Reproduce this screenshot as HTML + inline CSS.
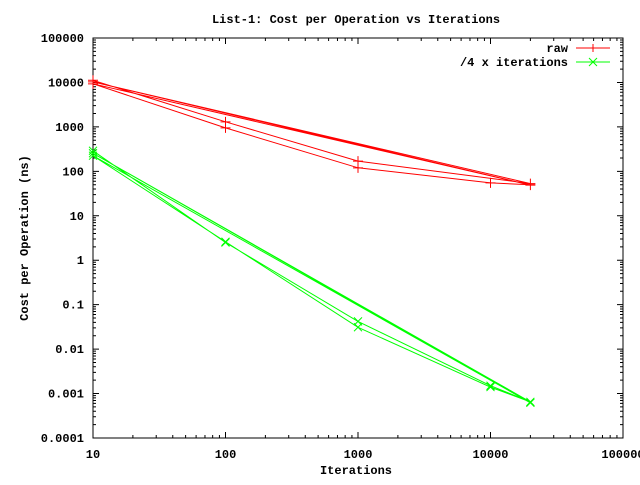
<!DOCTYPE html>
<html><head><meta charset="utf-8"><style>
body{margin:0;background:#fff}
text{font-family:"Liberation Mono",monospace;font-weight:bold;font-size:12px}
</style></head><body>
<svg id="chart" width="640" height="480" xmlns="http://www.w3.org/2000/svg">
<rect width="640" height="480" fill="#fff"/>
<text x="356" y="23" text-anchor="middle">List-1: Cost per Operation vs Iterations</text>
<text x="356" y="474" text-anchor="middle">Iterations</text>
<text transform="translate(28,238) rotate(-90)" text-anchor="middle">Cost per Operation (ns)</text>
<g id="axes"></g>
<g id="series"></g>
<g>
<text x="568" y="52" text-anchor="end">raw</text>
<line x1="576" y1="48" x2="610" y2="48" stroke="#f00"/>
<path d="M593 44V52M589 48H597" stroke="#f00"/>
<text x="568" y="66" text-anchor="end">/4 x iterations</text>
<line x1="576" y1="62" x2="610" y2="62" stroke="#0f0"/>
<path d="M589 58L597 66M589 66L597 58" stroke="#0f0"/>
</g>
</svg>
<script>
const xTicks=[10,100,1000,10000,100000];
const xTickLabels=["10","100","1000","10000","100000"];
const yTicks=[0.0001,0.001,0.01,0.1,1,10,100,1000,10000,100000];
const yTickLabels=["0.0001","0.001","0.01","0.1","1","10","100","1000","10000","100000"];
const rawX=[10,100,1000,20000,10,20000,10,100,1000,10000,20000];
const rawY=[11200,1300,170,53,10300,49,9300,950,120,55,50];
const iterX=[10,100,1000,10000,20000,10,20000,10,100,1000,10000,20000];
const iterY=[290,2.5,0.042,0.0015,0.00065,255,0.00062,225,2.6,0.031,0.0014,0.00065];
const L=93,R=623,T=38,B=438;
function sx(v){return L+(R-L)*(Math.log10(v)-1)/4;}
function sy(v){return B-(B-T)*(Math.log10(v)+4)/9;}
const NS="http://www.w3.org/2000/svg";
const ax=document.getElementById('axes');
function mk(p,tag,a){const e=document.createElementNS(NS,tag);for(const k in a)e.setAttribute(k,a[k]);p.appendChild(e);return e;}
let d="";
for(let dec=1;dec<5;dec++)for(let m=1;m<10;m++){const x=sx(m*Math.pow(10,dec));const len=m==1?6:3;d+=`M${x} ${B}v${-len}M${x} ${T}v${len}`;}
d+=`M${R} ${B}v-6M${R} ${T}v6`;
for(let dec=-4;dec<5;dec++)for(let m=1;m<10;m++){const y=sy(m*Math.pow(10,dec));const len=m==1?6:3;d+=`M${L} ${y}h${len}M${R} ${y}h${-len}`;}
d+=`M${L} ${T}h6M${R} ${T}h-6`;
const tk=mk(ax,'path',{d:d,stroke:'#000',fill:'none'});


const bd=mk(ax,'rect',{x:L,y:T,width:R-L,height:B-T,fill:'none',stroke:'#000'});


xTicks.forEach((v,i)=>{const t=mk(ax,'text',{x:sx(v),y:B+20,'text-anchor':'middle'});t.textContent=xTickLabels[i];

});
yTicks.forEach((v,i)=>{const t=mk(ax,'text',{x:L-9,y:sy(v)+4,'text-anchor':'end'});t.textContent=yTickLabels[i];

});
const sg=document.getElementById('series');
function series(xs,ys,col,name,cross){
 const pts=xs.map((x,i)=>sx(x).toFixed(1)+","+sy(ys[i]).toFixed(1)).join(" ");
 const pl=mk(sg,'polyline',{points:pts,fill:'none',stroke:col});
 
 
 let md="";
 xs.forEach((x,i)=>{const X=sx(x),Y=sy(ys[i]);md+=cross?`M${X-4} ${Y-4}L${X+4} ${Y+4}M${X-4} ${Y+4}L${X+4} ${Y-4}`:`M${X} ${Y-5}V${Y+5}M${X-5} ${Y}H${X+5}`;});
 const mp=mk(sg,'path',{d:md,stroke:col,fill:'none'});
 
 
}
series(rawX,rawY,'#f00','raw-series',false);
series(iterX,iterY,'#0f0','iterations-series',true);
</script>
</body></html>
